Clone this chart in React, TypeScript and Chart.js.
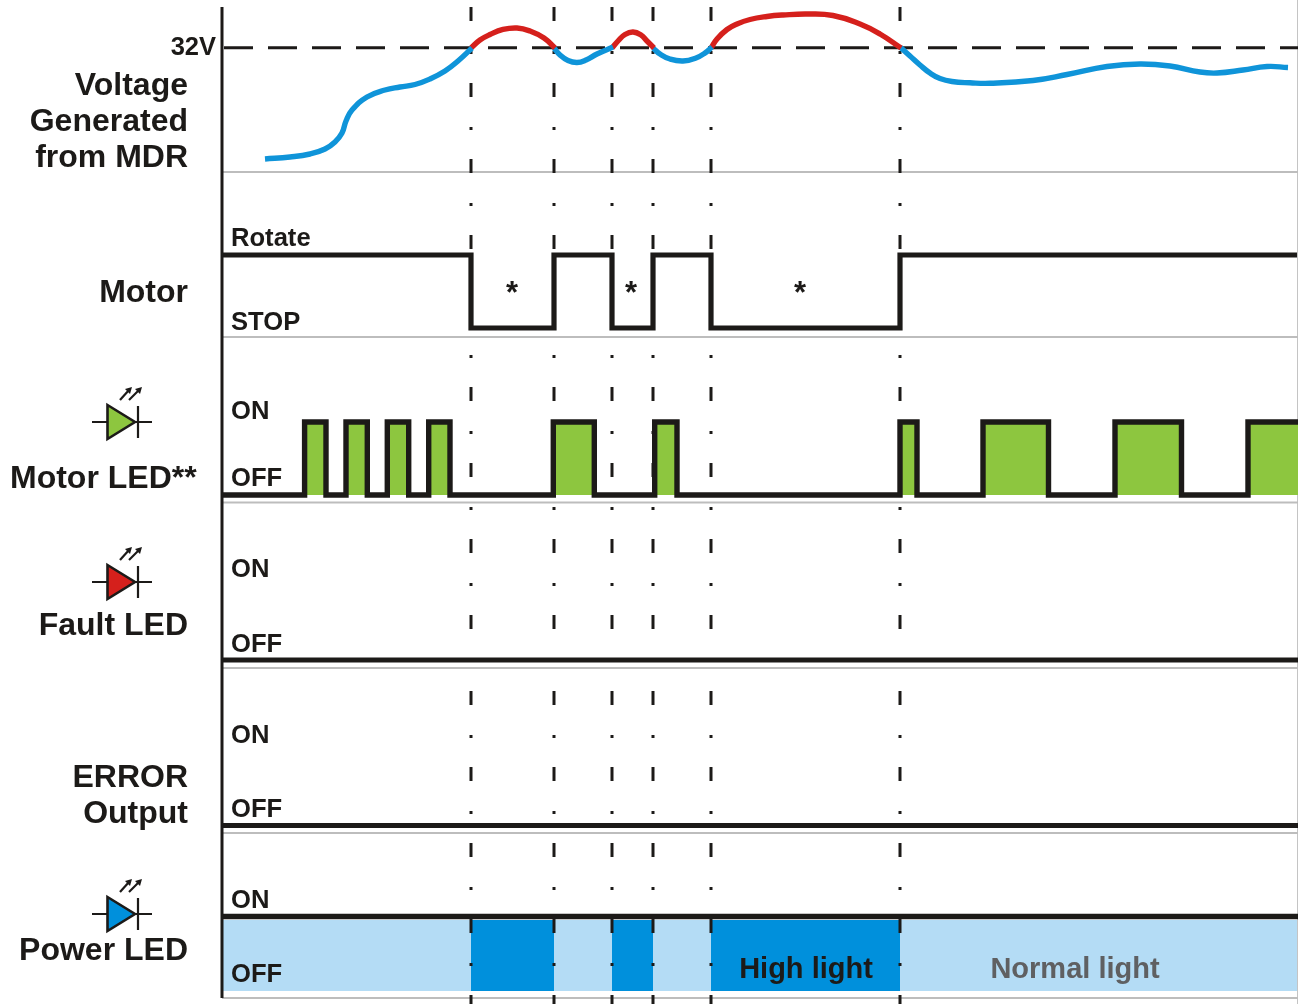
import React, { useEffect, useRef } from "react";
import { Chart, registerables } from "chart.js";

Chart.register(...registerables);

// ---- data (time runs along x, signal level along y) ----
const crossingTimes = [471, 554, 612, 653, 711, 900];

const voltageRiseX = [265, 290, 310, 325, 335, 342, 346, 352, 367, 385, 400, 415, 430, 445, 458, 472];
const voltageRiseY = [159, 157, 154, 149, 142, 133, 121, 110, 97, 90, 87, 84.5, 79, 71, 61, 48];
const overA_X = [471, 480, 490, 503, 517, 530, 544, 555];
const overA_Y = [48, 40, 34.5, 29.5, 28, 31, 38, 48];
const underA_X = [554, 560, 568, 577, 586, 597, 613];
const underA_Y = [48, 55, 60.5, 62.5, 60, 54, 47];
const overB_X = [612, 618, 625, 633, 641, 647, 654];
const overB_Y = [48, 41, 34.5, 32, 35, 41, 48];
const underB_X = [653, 660, 670, 683, 696, 705, 712];
const underB_Y = [48, 54, 59, 61, 58, 53, 47];
const overC_X = [711, 717, 727, 737, 750, 767, 783, 807, 833, 860, 880, 901];
const overC_Y = [48, 39, 29.5, 24, 19.5, 16.5, 15, 14, 15.5, 24, 34, 48];
const underC_X = [900, 910, 920, 930, 940, 952, 970, 990, 1033, 1067, 1107, 1140, 1170, 1200, 1217, 1243, 1267, 1288];
const underC_Y = [47, 56, 65, 73, 78.5, 81.5, 82.8, 83.3, 80.5, 74.5, 66.5, 64, 66, 72, 73, 70, 66.5, 67.5];
const limitVoltage = 47.7;

const motorEdges = [222, 471, 554, 612, 653, 711, 900, 1297];
const motorStates = [1, 0, 1, 0, 1, 0, 1];
const motorLevels = [328, 255];

const motorLedEdges = [222, 304.6, 326, 346, 367.3, 387.3, 408.7, 428.7, 450, 553.3, 594.3, 654.7, 677, 900, 917, 983, 1048.5, 1115, 1181.5, 1248, 1298];
const motorLedStates = [0, 1, 0, 1, 0, 1, 0, 1, 0, 1, 0, 1, 0, 1, 0, 1, 0, 1, 0, 1];
const motorLedLevels = [495, 422];

const faultLedLevel = 660;
const errorLevel = 825.5;
const powerLedLevel = 916.5;

const normalLight: [number, number][] = [[223, 1297]];
const highLight: [number, number][] = [[471, 554], [612, 653], [711, 900]];
const lightTop = 920;
const lightBottom = 991;

const panelRules = [172, 337, 502.5, 668, 833, 998];

// ---- text ----
const rowTitles = ["Voltage", "Generated", "from MDR", "Motor", "Fault LED", "ERROR", "Output", "Power LED"];
const titleBaselines = [95, 131, 167, 302, 635, 787, 823, 960];
const motorLedTitle = "Motor LED**";
const stateLabels = ["Rotate", "STOP", "ON", "OFF", "ON", "OFF", "ON", "OFF", "ON", "OFF"];
const stateBaselines = [246, 330, 419, 486, 577, 652, 743, 817, 908, 982];
const stopMarkTimes = [512, 631, 800];

const INK = "#1c1a18";
const BLUE = "#0f94d9";
const RED = "#d5201c";
const GREEN = "#8dc63f";
const SKY = "#b4dcf5";
const DEEP = "#0090dc";
const FONT = '"Liberation Sans", Arial, sans-serif';

const pairs = (xs: number[], ys: number[]) => xs.map((x, i) => ({ x, y: ys[i] }));

function square(edges: number[], states: number[], levels: number[]) {
  const out: { x: number; y: number }[] = [];
  states.forEach((s, i) => {
    out.push({ x: edges[i], y: levels[s] });
    out.push({ x: edges[i + 1], y: levels[s] });
  });
  return out;
}

const flat = (x0: number, x1: number, y: number) => [{ x: x0, y }, { x: x1, y }];

function curve(xs: number[], ys: number[], color: string, order: number) {
  return {
    data: pairs(xs, ys),
    borderColor: color,
    borderWidth: 5.4,
    tension: 0.45,
    order,
  };
}

function band(range: [number, number], color: string, order: number) {
  return {
    data: flat(range[0], range[1], lightTop),
    borderWidth: 0,
    borderColor: "transparent",
    backgroundColor: color,
    fill: { value: lightBottom },
    order,
  };
}

function drawIcon(ctx: CanvasRenderingContext2D, sx: (v: number) => number, sy: (v: number) => number, cy: number, fill: string) {
  ctx.save();
  ctx.strokeStyle = INK;
  ctx.lineWidth = 2.2;
  ctx.beginPath();
  ctx.moveTo(sx(92), sy(cy));
  ctx.lineTo(sx(152), sy(cy));
  ctx.moveTo(sx(138), sy(cy - 16));
  ctx.lineTo(sx(138), sy(cy + 16));
  ctx.stroke();
  ctx.beginPath();
  ctx.moveTo(sx(107.5), sy(cy - 17));
  ctx.lineTo(sx(135), sy(cy));
  ctx.lineTo(sx(107.5), sy(cy + 17));
  ctx.closePath();
  ctx.fillStyle = fill;
  ctx.fill();
  ctx.lineWidth = 2.6;
  ctx.stroke();
  ctx.lineWidth = 2.2;
  ctx.fillStyle = INK;
  [[120, 131], [129, 141]].forEach(([a, b]) => {
    ctx.beginPath();
    ctx.moveTo(sx(a), sy(cy - 22));
    ctx.lineTo(sx(b - 2), sy(cy - 32));
    ctx.stroke();
    ctx.beginPath();
    ctx.moveTo(sx(b + 1), sy(cy - 35));
    ctx.lineTo(sx(b - 6), sy(cy - 33));
    ctx.lineTo(sx(b - 1), sy(cy - 28));
    ctx.closePath();
    ctx.fill();
  });
  ctx.restore();
}

const annotations = {
  id: "annotations",
  afterDatasetsDraw(chart: any) {
    const { ctx, scales } = chart;
    const sx = (v: number) => scales.x.getPixelForValue(v);
    const sy = (v: number) => scales.y.getPixelForValue(v);
    const text = (s: string, x: number, y: number, font: string, align: CanvasTextAlign, color = INK) => {
      ctx.font = font;
      ctx.textAlign = align;
      ctx.textBaseline = "alphabetic";
      ctx.fillStyle = color;
      ctx.fillText(s, sx(x), sy(y));
    };
    ctx.save();
    const titleFont = `bold 32px ${FONT}`;
    rowTitles.forEach((s, i) => text(s, 188, titleBaselines[i], titleFont, "right"));
    text(motorLedTitle, 10, 488, titleFont, "left");
    const stateFont = `bold 25.6px ${FONT}`;
    stateLabels.forEach((s, i) => text(s, 231, stateBaselines[i], stateFont, "left"));
    text("32V", 216, 55, `bold 25.5px ${FONT}`, "right");
    stopMarkTimes.forEach((t) => text("*", t, 303, `bold 31px ${FONT}`, "center"));
    text("High light", 806, 978, `bold 29px ${FONT}`, "center");
    text("Normal light", 1075, 978, `bold 29px ${FONT}`, "center", "#5f6062");
    drawIcon(ctx, sx, sy, 422, GREEN);
    drawIcon(ctx, sx, sy, 582, RED);
    drawIcon(ctx, sx, sy, 914, DEEP);
    ctx.restore();
  },
};

export default function App() {
  const ref = useRef<HTMLCanvasElement>(null);

  useEffect(() => {
    document.body.style.margin = "0";
    document.body.style.background = "#ffffff";
    const datasets: any[] = [
      ...normalLight.map((r) => band(r, SKY, 90)),
      ...highLight.map((r) => band(r, DEEP, 80)),
      ...panelRules.map((y) => ({
        data: flat(222, 1298, y),
        borderColor: "#bdbdbd",
        borderWidth: 1.8,
        order: 70,
      })),
      {
        data: [{ x: 1297.5, y: 0 }, { x: 1297.5, y: 1004 }],
        borderColor: "#c4c4c4",
        borderWidth: 1,
        order: 70,
      },
      ...crossingTimes.map((t) => ({
        data: [{ x: t, y: 7 }, { x: t, y: 1004 }],
        borderColor: INK,
        borderWidth: 3,
        borderDash: [14, 30, 3, 29],
        order: 60,
      })),
      {
        data: flat(224, 1298, limitVoltage),
        borderColor: INK,
        borderWidth: 3,
        borderDash: [29, 15],
        order: 50,
      },
      {
        data: [{ x: 222, y: 7 }, { x: 222, y: 998 }],
        borderColor: INK,
        borderWidth: 3,
        order: 40,
      },
      {
        data: square(motorEdges, motorStates, motorLevels),
        borderColor: INK,
        borderWidth: 5.2,
        borderJoinStyle: "miter",
        order: 30,
      },
      {
        data: square(motorLedEdges, motorLedStates, motorLedLevels),
        borderColor: INK,
        borderWidth: 5.4,
        borderJoinStyle: "miter",
        backgroundColor: GREEN,
        fill: { value: motorLedLevels[0] },
        order: 30,
      },
      ...[faultLedLevel, errorLevel].map((y) => ({
        data: flat(222, 1298, y),
        borderColor: INK,
        borderWidth: 5,
        order: 30,
      })),
      {
        data: flat(222, 1298, powerLedLevel),
        borderColor: INK,
        borderWidth: 5.4,
        order: 30,
      },
      curve(voltageRiseX, voltageRiseY, BLUE, 20),
      curve(overA_X, overA_Y, RED, 20),
      curve(underA_X, underA_Y, BLUE, 20),
      curve(overB_X, overB_Y, RED, 20),
      curve(underB_X, underB_Y, BLUE, 20),
      curve(overC_X, overC_Y, RED, 20),
      curve(underC_X, underC_Y, BLUE, 20),
    ];
    const chart = new Chart(ref.current as HTMLCanvasElement, {
      type: "scatter",
      data: { datasets },
      options: {
        animation: false,
        responsive: false,
        devicePixelRatio: 1,
        showLine: true,
        layout: { padding: 0 },
        elements: { point: { radius: 0, hoverRadius: 0 }, line: { borderCapStyle: "butt" } },
        plugins: { legend: { display: false }, tooltip: { enabled: false }, title: { display: false } },
        events: [],
        scales: {
          x: { type: "linear", display: false, min: 0, max: 1298 },
          y: { type: "linear", display: false, min: 0, max: 1004, reverse: true },
        },
      },
      plugins: [annotations],
    } as any);
    return () => chart.destroy();
  }, []);

  return (
    <div style={{ position: "absolute", left: 0, top: 0, width: 1298, height: 1004, overflow: "hidden", background: "#fff" }}>
      <canvas ref={ref} width={1298} height={1004} style={{ display: "block" }} />
    </div>
  );
}
